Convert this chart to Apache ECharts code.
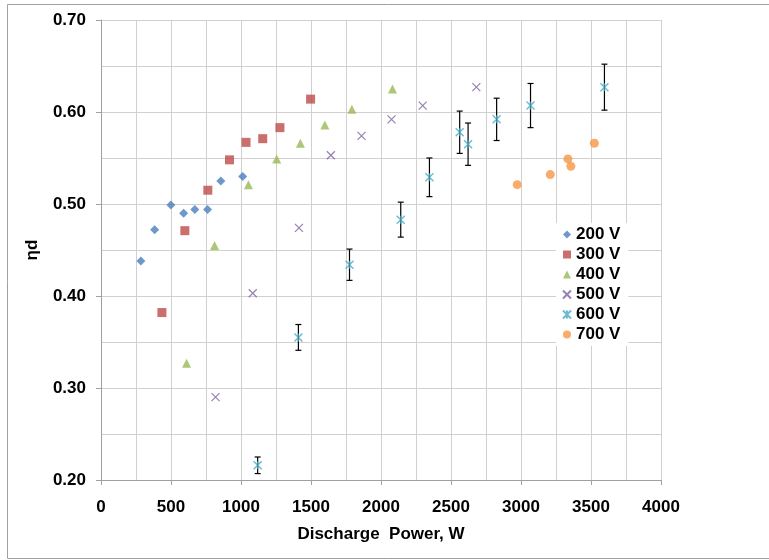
<!DOCTYPE html>
<html>
<head>
<meta charset="utf-8">
<script src="https://cdn.jsdelivr.net/npm/echarts@6/dist/echarts.min.js"></script>
<style>
  html, body { margin: 0; padding: 0; background: #fff; }
  #chart { width: 769px; height: 560px; }
</style>
</head>
<body>
<div id="chart"></div>
<script>
// Discharge power (W) vs efficiency, one list per voltage
var p200x = [285, 383, 499, 590, 670, 761, 856, 1012];
var p200y = [0.438, 0.472, 0.499, 0.490, 0.494, 0.494, 0.525, 0.530];

var p300x = [435, 599, 763, 918, 1036, 1155, 1278, 1497];
var p300y = [0.382, 0.471, 0.515, 0.548, 0.567, 0.571, 0.583, 0.614];

var p400x = [611, 811, 1053, 1255, 1424, 1599, 1792, 2082];
var p400y = [0.327, 0.455, 0.521, 0.549, 0.566, 0.586, 0.603, 0.625];

var p500x = [818, 1084, 1414, 1642, 1861, 2075, 2298, 2681];
var p500y = [0.290, 0.403, 0.474, 0.553, 0.574, 0.592, 0.607, 0.627];

var p600x = [1119, 1410, 1775, 2141, 2346, 2562, 2622, 2826, 3068, 3596];
var p600y = [0.216, 0.355, 0.434, 0.483, 0.529, 0.578, 0.565, 0.592, 0.607, 0.627];
var p600err = [0.009, 0.014, 0.017, 0.019, 0.021, 0.023, 0.023, 0.023, 0.024, 0.025];

var p700x = [2973, 3209, 3335, 3356, 3524];
var p700y = [0.521, 0.532, 0.549, 0.541, 0.566];

var seriesNames = ['200 V', '300 V', '400 V', '500 V', '600 V', '700 V'];

function pairs(xs, ys) {
  return xs.map(function (x, i) { return [x, ys[i]]; });
}

function show_eff_chart(chart_id) {
  var chartDom = document.getElementById(chart_id);
  var effChart = echarts.init(chartDom);
  var option;

  var font = 'Liberation Sans, Arial, sans-serif';
  var xMark = 'path://M0,0L10,10M10,0L0,10';
  var starMark = 'path://M0,0L10,10M10,0L0,10M5,0L5,10';

  var errData = p600x.map(function (x, i) {
    return [x, p600y[i] - p600err[i], p600y[i] + p600err[i]];
  });

  option = {
    animation: false,
    backgroundColor: '#fff',
    textStyle: { fontFamily: font },
    graphic: [
      {
        type: 'rect',
        shape: { x: 7.5, y: 4.5, width: 800, height: 554 },
        style: { fill: 'none', stroke: '#a0a0a0', lineWidth: 1 },
        silent: true
      }
    ],
    grid: {
      left: 101,
      right: 108,
      top: 20,
      bottom: 80,
      outerBoundsMode: 'none'
    },
    legend: {
      orient: 'vertical',
      left: 556,
      top: 223,
      padding: [3, 8, 3, 6],
      backgroundColor: '#fff',
      itemWidth: 8,
      itemHeight: 8,
      itemGap: 3,
      data: seriesNames,
      textStyle: {
        fontFamily: font,
        fontWeight: 'bold',
        fontSize: 17,
        lineHeight: 17,
        color: '#000'
      }
    },
    xAxis: {
      type: 'value',
      min: 0,
      max: 4000,
      interval: 500,
      name: 'Discharge  Power, W',
      nameLocation: 'middle',
      nameGap: 46,
      nameTextStyle: { fontFamily: font, fontWeight: 'bold', fontSize: 17, color: '#000' },
      axisLine: { show: true, lineStyle: { color: '#a0a0a0' } },
      axisTick: { show: true, inside: false, length: 5, lineStyle: { color: '#a0a0a0' } },
      axisLabel: {
        margin: 19,
        fontFamily: font,
        fontWeight: 'bold',
        fontSize: 17,
        color: '#000',
        formatter: function (v) { return String(v); }
      },
      splitLine: { show: true, lineStyle: { color: '#d0d0d0' } },
      minorTick: { show: false, splitNumber: 2 },
      minorSplitLine: { show: true, lineStyle: { color: '#d0d0d0' } }
    },
    yAxis: {
      type: 'value',
      min: 0.2,
      max: 0.7,
      interval: 0.1,
      name: 'ηd',
      nameLocation: 'middle',
      nameGap: 60,
      nameTextStyle: { fontFamily: font, fontWeight: 'bold', fontSize: 17, color: '#000' },
      axisLine: { show: true, lineStyle: { color: '#a0a0a0' } },
      axisTick: { show: true, inside: false, length: 5, lineStyle: { color: '#a0a0a0' } },
      axisLabel: {
        margin: 15,
        fontFamily: font,
        fontWeight: 'bold',
        fontSize: 17,
        color: '#000',
        formatter: function (v) { return v.toFixed(2); }
      },
      splitLine: { show: true, lineStyle: { color: '#d0d0d0' } },
      minorTick: { show: false, splitNumber: 2 },
      minorSplitLine: { show: true, lineStyle: { color: '#d0d0d0' } }
    },
    series: [
      {
        name: 'err600',
        type: 'custom',
        z: 1,
        silent: true,
        data: errData,
        encode: { x: 0, y: [1, 2] },
        renderItem: function (params, api) {
          var lo = api.coord([api.value(0), api.value(1)]);
          var hi = api.coord([api.value(0), api.value(2)]);
          var cap = 3;
          var st = { stroke: '#000', lineWidth: 1.2 };
          return {
            type: 'group',
            children: [
              { type: 'line', shape: { x1: hi[0], y1: hi[1], x2: lo[0], y2: lo[1] }, style: st },
              { type: 'line', shape: { x1: hi[0] - cap, y1: hi[1], x2: hi[0] + cap, y2: hi[1] }, style: st },
              { type: 'line', shape: { x1: lo[0] - cap, y1: lo[1], x2: lo[0] + cap, y2: lo[1] }, style: st }
            ]
          };
        }
      },
      {
        name: '200 V',
        type: 'scatter',
        z: 3,
        symbol: 'diamond',
        symbolSize: 9,
        itemStyle: { color: '#4a7ebb' },
        data: pairs(p200x, p200y)
      },
      {
        name: '300 V',
        type: 'scatter',
        z: 3,
        symbol: 'rect',
        symbolSize: 9,
        itemStyle: { color: '#be4b48' },
        data: pairs(p300x, p300y)
      },
      {
        name: '400 V',
        type: 'scatter',
        z: 3,
        symbol: 'triangle',
        symbolSize: 9,
        itemStyle: { color: '#98b954' },
        data: pairs(p400x, p400y)
      },
      {
        name: '500 V',
        type: 'scatter',
        z: 3,
        symbol: xMark,
        symbolSize: 8,
        itemStyle: { color: 'rgba(0,0,0,0)', borderColor: '#7d60a0', borderWidth: 1.2 },
        data: pairs(p500x, p500y)
      },
      {
        name: '600 V',
        type: 'scatter',
        z: 3,
        symbol: starMark,
        symbolSize: 8,
        itemStyle: { color: 'rgba(0,0,0,0)', borderColor: '#46aac5', borderWidth: 1.4 },
        data: pairs(p600x, p600y)
      },
      {
        name: '700 V',
        type: 'scatter',
        z: 3,
        symbol: 'circle',
        symbolSize: 9,
        itemStyle: { color: '#f79646' },
        data: pairs(p700x, p700y)
      }
    ]
  };

  option && effChart.setOption(option);
  window.addEventListener('resize', function () { effChart.resize(); });
}

show_eff_chart('chart');
</script>
</body>
</html>
